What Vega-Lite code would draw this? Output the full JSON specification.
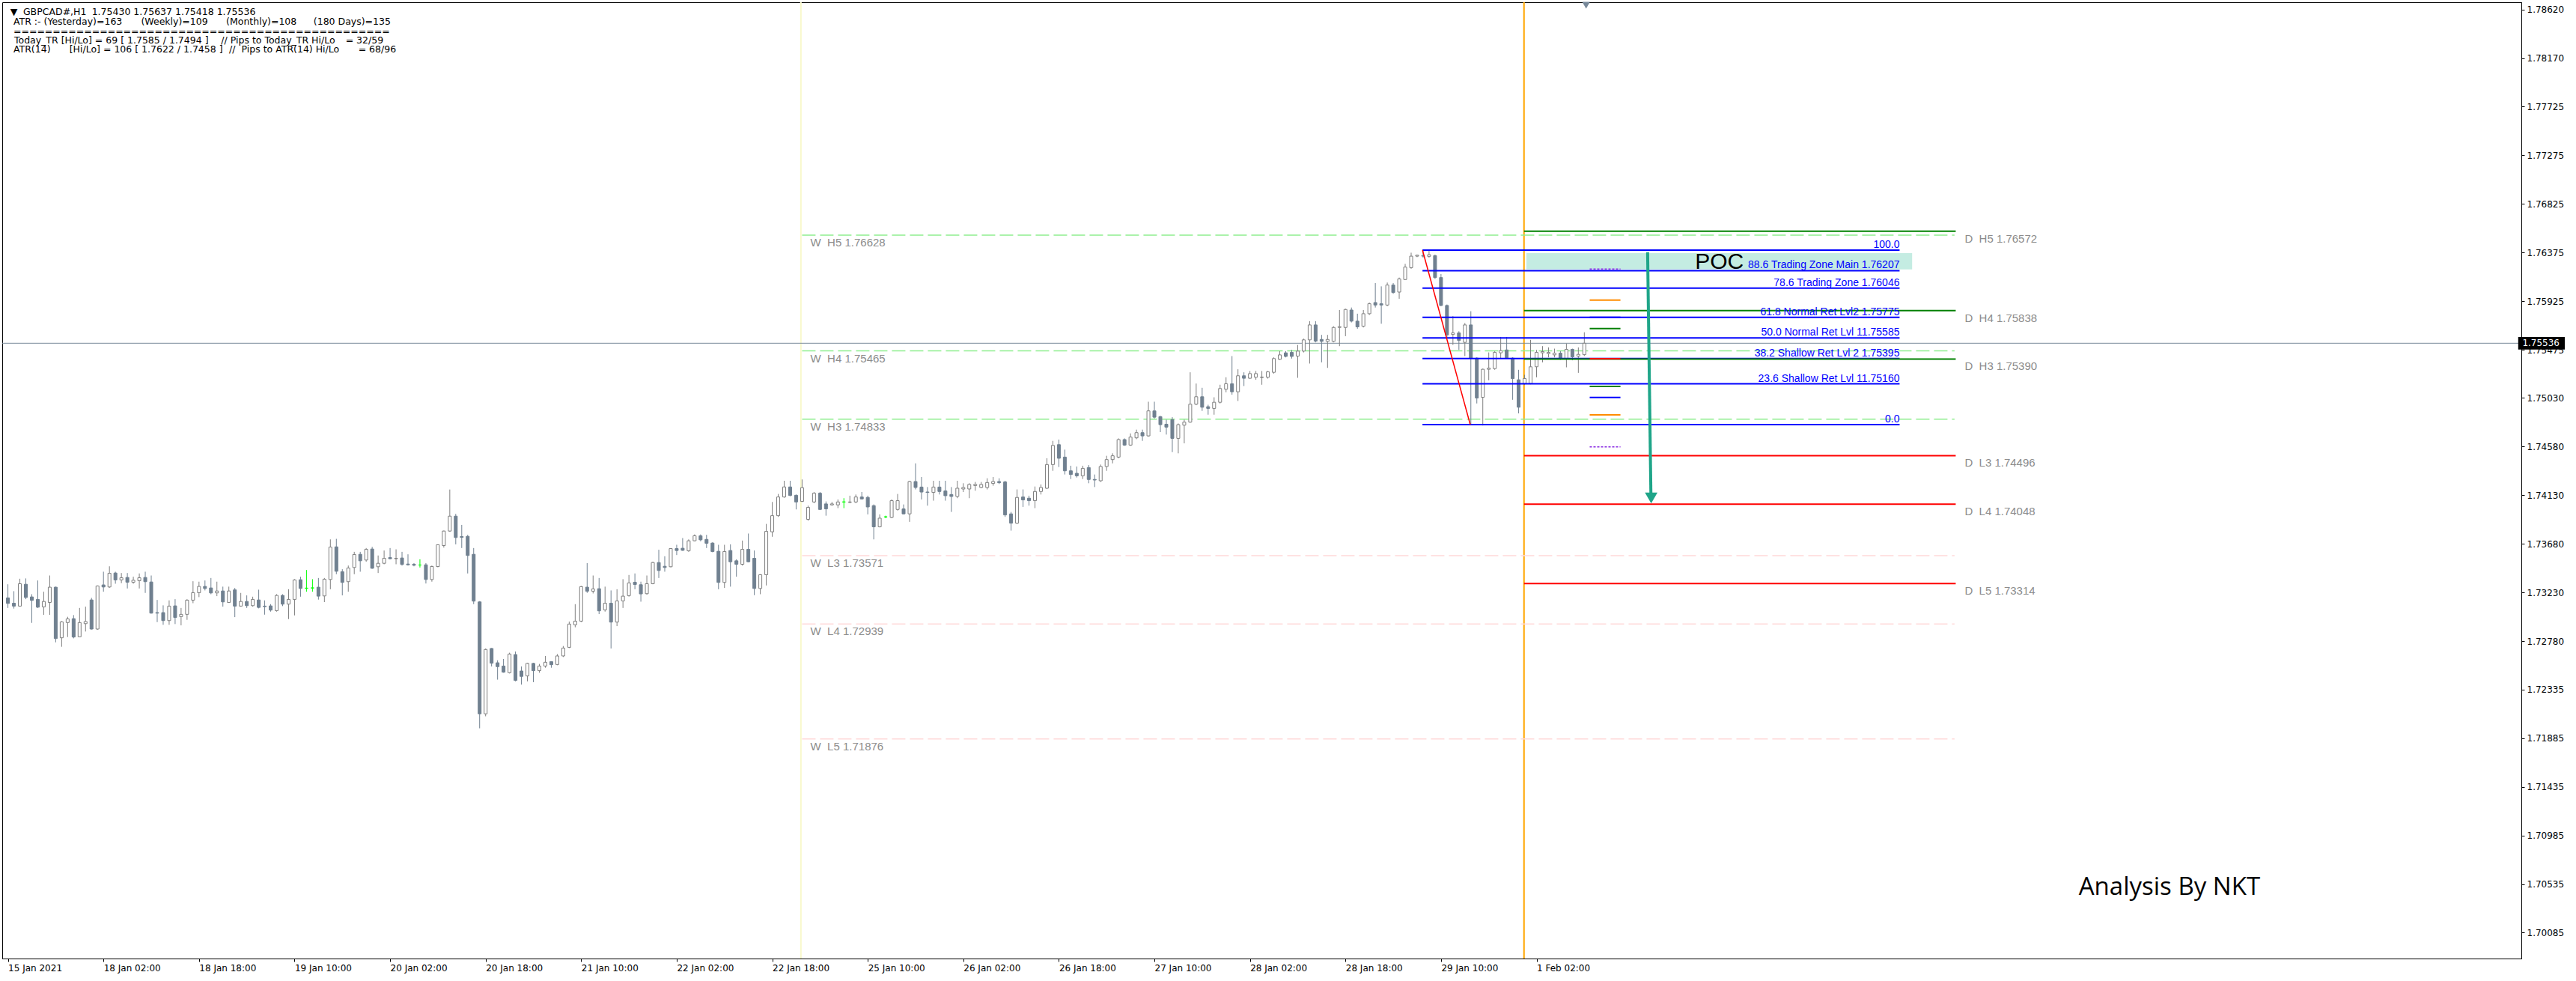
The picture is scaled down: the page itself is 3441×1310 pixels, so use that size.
{
"$schema":"https://vega.github.io/schema/vega-lite/v6.json",
"width":3365,"height":1277,
"autosize":{"type":"none"},
"padding":{"left":3,"top":3,"right":73,"bottom":30},
"background":"white",
"config":{"view":{"stroke":"#000000","strokeWidth":1},
 "axis":{"grid":false,"title":null,"labelFont":"DejaVu Sans","labelFontSize":12,"labelColor":"#000000","domainColor":"#000000","tickColor":"#000000","tickSize":4,"labelFlush":false,"labelOverlap":false},
 "axisX":{"labelAlign":"left","labelBaseline":"top","labelPadding":3},
 "axisY":{"labelAlign":"left","labelBaseline":"middle","labelPadding":3}},
"datasets":{
"candles":[
{"i":0,"o":1.73181,"h":1.73307,"l":1.73088,"c":1.73130},
{"i":1,"o":1.73132,"h":1.73243,"l":1.73082,"c":1.73105},
{"i":2,"o":1.73105,"h":1.73358,"l":1.73100,"c":1.73312},
{"i":3,"o":1.73307,"h":1.73361,"l":1.73169,"c":1.73185},
{"i":4,"o":1.73190,"h":1.73215,"l":1.72950,"c":1.73158},
{"i":5,"o":1.73167,"h":1.73342,"l":1.73088,"c":1.73095},
{"i":6,"o":1.73098,"h":1.73238,"l":1.73024,"c":1.73148},
{"i":7,"o":1.73139,"h":1.73388,"l":1.73024,"c":1.73280},
{"i":8,"o":1.73280,"h":1.73285,"l":1.72770,"c":1.72805},
{"i":9,"o":1.72812,"h":1.72966,"l":1.72729,"c":1.72959},
{"i":10,"o":1.72953,"h":1.73006,"l":1.72819,"c":1.72987},
{"i":11,"o":1.72989,"h":1.73022,"l":1.72807,"c":1.72819},
{"i":12,"o":1.72821,"h":1.73088,"l":1.72817,"c":1.72953},
{"i":13,"o":1.72943,"h":1.73100,"l":1.72870,"c":1.72962},
{"i":14,"o":1.73162,"h":1.73181,"l":1.72888,"c":1.72893},
{"i":15,"o":1.72893,"h":1.73296,"l":1.72886,"c":1.73291},
{"i":16,"o":1.73301,"h":1.73423,"l":1.73238,"c":1.73282},
{"i":17,"o":1.73282,"h":1.73473,"l":1.73273,"c":1.73409},
{"i":18,"o":1.73411,"h":1.73423,"l":1.73312,"c":1.73347},
{"i":19,"o":1.73347,"h":1.73411,"l":1.73317,"c":1.73367},
{"i":20,"o":1.73370,"h":1.73411,"l":1.73268,"c":1.73326},
{"i":21,"o":1.73326,"h":1.73377,"l":1.73312,"c":1.73344},
{"i":22,"o":1.73340,"h":1.73407,"l":1.73268,"c":1.73367},
{"i":23,"o":1.73370,"h":1.73423,"l":1.73227,"c":1.73331},
{"i":24,"o":1.73328,"h":1.73388,"l":1.73036,"c":1.73040},
{"i":25,"o":1.73045,"h":1.73162,"l":1.72957,"c":1.73040},
{"i":26,"o":1.73045,"h":1.73112,"l":1.72932,"c":1.72971},
{"i":27,"o":1.72971,"h":1.73158,"l":1.72932,"c":1.73105},
{"i":28,"o":1.73107,"h":1.73169,"l":1.72939,"c":1.73000},
{"i":29,"o":1.73008,"h":1.73088,"l":1.72927,"c":1.73029},
{"i":30,"o":1.73029,"h":1.73169,"l":1.72978,"c":1.73160},
{"i":31,"o":1.73160,"h":1.73335,"l":1.73132,"c":1.73229},
{"i":32,"o":1.73229,"h":1.73331,"l":1.73188,"c":1.73287},
{"i":33,"o":1.73287,"h":1.73342,"l":1.73250,"c":1.73268},
{"i":34,"o":1.73273,"h":1.73365,"l":1.73215,"c":1.73227},
{"i":35,"o":1.73227,"h":1.73331,"l":1.73197,"c":1.73245},
{"i":36,"o":1.73245,"h":1.73285,"l":1.73100,"c":1.73144},
{"i":37,"o":1.73139,"h":1.73285,"l":1.73135,"c":1.73245},
{"i":38,"o":1.73255,"h":1.73273,"l":1.73003,"c":1.73105},
{"i":39,"o":1.73105,"h":1.73227,"l":1.73100,"c":1.73148},
{"i":40,"o":1.73148,"h":1.73204,"l":1.73088,"c":1.73109},
{"i":41,"o":1.73109,"h":1.73192,"l":1.73100,"c":1.73167},
{"i":42,"o":1.73162,"h":1.73257,"l":1.73084,"c":1.73093},
{"i":43,"o":1.73105,"h":1.73158,"l":1.73026,"c":1.73100},
{"i":44,"o":1.73107,"h":1.73123,"l":1.73054,"c":1.73068},
{"i":45,"o":1.73063,"h":1.73215,"l":1.73054,"c":1.73204},
{"i":46,"o":1.73204,"h":1.73215,"l":1.73105,"c":1.73123},
{"i":47,"o":1.73123,"h":1.73261,"l":1.72985,"c":1.73167},
{"i":48,"o":1.73167,"h":1.73354,"l":1.73019,"c":1.73347},
{"i":49,"o":1.73349,"h":1.73377,"l":1.73192,"c":1.73268},
{"i":50,"o":1.73271,"h":1.73439,"l":1.73238,"c":1.73271},
{"i":51,"o":1.73273,"h":1.73354,"l":1.73238,"c":1.73273},
{"i":52,"o":1.73280,"h":1.73365,"l":1.73165,"c":1.73197},
{"i":53,"o":1.73199,"h":1.73365,"l":1.73142,"c":1.73354},
{"i":54,"o":1.73351,"h":1.73722,"l":1.73261,"c":1.73651},
{"i":55,"o":1.73653,"h":1.73727,"l":1.73400,"c":1.73427},
{"i":56,"o":1.73423,"h":1.73446,"l":1.73204,"c":1.73324},
{"i":57,"o":1.73331,"h":1.73480,"l":1.73238,"c":1.73457},
{"i":58,"o":1.73462,"h":1.73607,"l":1.73400,"c":1.73582},
{"i":59,"o":1.73584,"h":1.73607,"l":1.73423,"c":1.73524},
{"i":60,"o":1.73531,"h":1.73642,"l":1.73515,"c":1.73630},
{"i":61,"o":1.73633,"h":1.73653,"l":1.73450,"c":1.73455},
{"i":62,"o":1.73469,"h":1.73573,"l":1.73411,"c":1.73501},
{"i":63,"o":1.73501,"h":1.73619,"l":1.73492,"c":1.73547},
{"i":64,"o":1.73554,"h":1.73642,"l":1.73538,"c":1.73543},
{"i":65,"o":1.73543,"h":1.73630,"l":1.73492,"c":1.73547},
{"i":66,"o":1.73550,"h":1.73607,"l":1.73480,"c":1.73490},
{"i":67,"o":1.73494,"h":1.73584,"l":1.73480,"c":1.73487},
{"i":68,"o":1.73492,"h":1.73503,"l":1.73473,"c":1.73483},
{"i":69,"o":1.73485,"h":1.73538,"l":1.73462,"c":1.73485},
{"i":70,"o":1.73487,"h":1.73503,"l":1.73314,"c":1.73351},
{"i":71,"o":1.73351,"h":1.73480,"l":1.73331,"c":1.73471},
{"i":72,"o":1.73471,"h":1.73676,"l":1.73464,"c":1.73672},
{"i":73,"o":1.73665,"h":1.73803,"l":1.73646,"c":1.73799},
{"i":74,"o":1.73799,"h":1.74183,"l":1.73792,"c":1.73937},
{"i":75,"o":1.73937,"h":1.73958,"l":1.73676,"c":1.73739},
{"i":76,"o":1.73748,"h":1.73856,"l":1.73642,"c":1.73741},
{"i":77,"o":1.73750,"h":1.73764,"l":1.73407,"c":1.73573},
{"i":78,"o":1.73584,"h":1.73642,"l":1.73123,"c":1.73151},
{"i":79,"o":1.73144,"h":1.73151,"l":1.71975,"c":1.72109},
{"i":80,"o":1.72109,"h":1.72713,"l":1.72086,"c":1.72704},
{"i":81,"o":1.72713,"h":1.72717,"l":1.72547,"c":1.72577},
{"i":82,"o":1.72581,"h":1.72604,"l":1.72425,"c":1.72545},
{"i":83,"o":1.72551,"h":1.72616,"l":1.72489,"c":1.72494},
{"i":84,"o":1.72489,"h":1.72674,"l":1.72482,"c":1.72662},
{"i":85,"o":1.72657,"h":1.72685,"l":1.72409,"c":1.72418},
{"i":86,"o":1.72505,"h":1.72547,"l":1.72379,"c":1.72455},
{"i":87,"o":1.72459,"h":1.72581,"l":1.72409,"c":1.72575},
{"i":88,"o":1.72575,"h":1.72581,"l":1.72402,"c":1.72508},
{"i":89,"o":1.72508,"h":1.72570,"l":1.72489,"c":1.72551},
{"i":90,"o":1.72551,"h":1.72644,"l":1.72535,"c":1.72586},
{"i":91,"o":1.72591,"h":1.72593,"l":1.72535,"c":1.72563},
{"i":92,"o":1.72565,"h":1.72662,"l":1.72558,"c":1.72644},
{"i":93,"o":1.72644,"h":1.72736,"l":1.72634,"c":1.72717},
{"i":94,"o":1.72724,"h":1.72962,"l":1.72717,"c":1.72939},
{"i":95,"o":1.72932,"h":1.73123,"l":1.72909,"c":1.72966},
{"i":96,"o":1.72966,"h":1.73291,"l":1.72957,"c":1.73285},
{"i":97,"o":1.73280,"h":1.73503,"l":1.73227,"c":1.73243},
{"i":98,"o":1.73243,"h":1.73388,"l":1.73222,"c":1.73264},
{"i":99,"o":1.73266,"h":1.73365,"l":1.73031,"c":1.73061},
{"i":100,"o":1.73070,"h":1.73285,"l":1.73054,"c":1.73132},
{"i":101,"o":1.73132,"h":1.73250,"l":1.72713,"c":1.72957},
{"i":102,"o":1.72957,"h":1.73261,"l":1.72920,"c":1.73153},
{"i":103,"o":1.73153,"h":1.73354,"l":1.73088,"c":1.73197},
{"i":104,"o":1.73202,"h":1.73393,"l":1.73192,"c":1.73319},
{"i":105,"o":1.73326,"h":1.73407,"l":1.73261,"c":1.73305},
{"i":106,"o":1.73303,"h":1.73331,"l":1.73146,"c":1.73218},
{"i":107,"o":1.73220,"h":1.73388,"l":1.73211,"c":1.73312},
{"i":108,"o":1.73312,"h":1.73515,"l":1.73307,"c":1.73508},
{"i":109,"o":1.73508,"h":1.73626,"l":1.73365,"c":1.73434},
{"i":110,"o":1.73473,"h":1.73566,"l":1.73423,"c":1.73462},
{"i":111,"o":1.73469,"h":1.73642,"l":1.73464,"c":1.73637},
{"i":112,"o":1.73637,"h":1.73672,"l":1.73577,"c":1.73619},
{"i":113,"o":1.73640,"h":1.73734,"l":1.73616,"c":1.73621},
{"i":114,"o":1.73616,"h":1.73722,"l":1.73607,"c":1.73709},
{"i":115,"o":1.73709,"h":1.73768,"l":1.73704,"c":1.73755},
{"i":116,"o":1.73755,"h":1.73768,"l":1.73704,"c":1.73718},
{"i":117,"o":1.73722,"h":1.73764,"l":1.73642,"c":1.73686},
{"i":118,"o":1.73688,"h":1.73695,"l":1.73603,"c":1.73610},
{"i":119,"o":1.73612,"h":1.73672,"l":1.73261,"c":1.73324},
{"i":120,"o":1.73324,"h":1.73672,"l":1.73273,"c":1.73610},
{"i":121,"o":1.73619,"h":1.73676,"l":1.73285,"c":1.73515},
{"i":122,"o":1.73524,"h":1.73538,"l":1.73377,"c":1.73492},
{"i":123,"o":1.73492,"h":1.73711,"l":1.73480,"c":1.73630},
{"i":124,"o":1.73630,"h":1.73776,"l":1.73510,"c":1.73515},
{"i":125,"o":1.73547,"h":1.73619,"l":1.73206,"c":1.73268},
{"i":126,"o":1.73268,"h":1.73400,"l":1.73215,"c":1.73395},
{"i":127,"o":1.73395,"h":1.73865,"l":1.73296,"c":1.73796},
{"i":128,"o":1.73792,"h":1.74068,"l":1.73746,"c":1.73941},
{"i":129,"o":1.73941,"h":1.74142,"l":1.73930,"c":1.74114},
{"i":130,"o":1.74114,"h":1.74264,"l":1.74107,"c":1.74207},
{"i":131,"o":1.74207,"h":1.74264,"l":1.74121,"c":1.74128},
{"i":132,"o":1.74130,"h":1.74137,"l":1.73999,"c":1.74068},
{"i":133,"o":1.74073,"h":1.74276,"l":1.74068,"c":1.74200},
{"i":134,"o":1.73907,"h":1.74034,"l":1.73895,"c":1.74018},
{"i":135,"o":1.74068,"h":1.74160,"l":1.74057,"c":1.74149},
{"i":136,"o":1.74149,"h":1.74160,"l":1.73995,"c":1.73999},
{"i":137,"o":1.74050,"h":1.74073,"l":1.73941,"c":1.74004},
{"i":138,"o":1.74041,"h":1.74068,"l":1.74034,"c":1.74050},
{"i":139,"o":1.74041,"h":1.74091,"l":1.74011,"c":1.74068},
{"i":140,"o":1.74068,"h":1.74103,"l":1.74011,"c":1.74068},
{"i":141,"o":1.74064,"h":1.74126,"l":1.74057,"c":1.74068},
{"i":142,"o":1.74068,"h":1.74137,"l":1.74057,"c":1.74114},
{"i":143,"o":1.74114,"h":1.74160,"l":1.74091,"c":1.74096},
{"i":144,"o":1.74110,"h":1.74126,"l":1.73953,"c":1.74022},
{"i":145,"o":1.74034,"h":1.74045,"l":1.73722,"c":1.73838},
{"i":146,"o":1.73838,"h":1.73953,"l":1.73833,"c":1.73918},
{"i":147,"o":1.73930,"h":1.73941,"l":1.73918,"c":1.73930},
{"i":148,"o":1.73925,"h":1.74091,"l":1.73918,"c":1.74080},
{"i":149,"o":1.73999,"h":1.74142,"l":1.73988,"c":1.74080},
{"i":150,"o":1.74004,"h":1.74045,"l":1.73953,"c":1.73958},
{"i":151,"o":1.73958,"h":1.74264,"l":1.73884,"c":1.74257},
{"i":152,"o":1.74257,"h":1.74425,"l":1.74184,"c":1.74202},
{"i":153,"o":1.74206,"h":1.74299,"l":1.74091,"c":1.74160},
{"i":154,"o":1.74160,"h":1.74206,"l":1.74034,"c":1.74156},
{"i":155,"o":1.74156,"h":1.74264,"l":1.74080,"c":1.74206},
{"i":156,"o":1.74206,"h":1.74264,"l":1.74137,"c":1.74165},
{"i":157,"o":1.74170,"h":1.74264,"l":1.74080,"c":1.74126},
{"i":158,"o":1.74137,"h":1.74206,"l":1.73976,"c":1.74119},
{"i":159,"o":1.74119,"h":1.74264,"l":1.74103,"c":1.74195},
{"i":160,"o":1.74188,"h":1.74241,"l":1.74160,"c":1.74202},
{"i":161,"o":1.74188,"h":1.74241,"l":1.74103,"c":1.74230},
{"i":162,"o":1.74220,"h":1.74253,"l":1.74172,"c":1.74230},
{"i":163,"o":1.74202,"h":1.74253,"l":1.74195,"c":1.74230},
{"i":164,"o":1.74202,"h":1.74287,"l":1.74184,"c":1.74248},
{"i":165,"o":1.74239,"h":1.74299,"l":1.74218,"c":1.74257},
{"i":166,"o":1.74257,"h":1.74287,"l":1.74234,"c":1.74246},
{"i":167,"o":1.74253,"h":1.74264,"l":1.73930,"c":1.73948},
{"i":168,"o":1.73958,"h":1.73976,"l":1.73803,"c":1.73872},
{"i":169,"o":1.73872,"h":1.74184,"l":1.73865,"c":1.74110},
{"i":170,"o":1.74114,"h":1.74184,"l":1.74022,"c":1.74087},
{"i":171,"o":1.74103,"h":1.74126,"l":1.74034,"c":1.74080},
{"i":172,"o":1.74080,"h":1.74211,"l":1.74011,"c":1.74165},
{"i":173,"o":1.74165,"h":1.74230,"l":1.74137,"c":1.74202},
{"i":174,"o":1.74195,"h":1.74472,"l":1.74188,"c":1.74414},
{"i":175,"o":1.74414,"h":1.74633,"l":1.74356,"c":1.74591},
{"i":176,"o":1.74598,"h":1.74645,"l":1.74391,"c":1.74472},
{"i":177,"o":1.74483,"h":1.74552,"l":1.74322,"c":1.74356},
{"i":178,"o":1.74356,"h":1.74403,"l":1.74280,"c":1.74322},
{"i":179,"o":1.74333,"h":1.74396,"l":1.74294,"c":1.74310},
{"i":180,"o":1.74310,"h":1.74403,"l":1.74280,"c":1.74379},
{"i":181,"o":1.74386,"h":1.74409,"l":1.74241,"c":1.74276},
{"i":182,"o":1.74276,"h":1.74322,"l":1.74206,"c":1.74271},
{"i":183,"o":1.74264,"h":1.74414,"l":1.74253,"c":1.74396},
{"i":184,"o":1.74396,"h":1.74495,"l":1.74356,"c":1.74460},
{"i":185,"o":1.74460,"h":1.74518,"l":1.74425,"c":1.74495},
{"i":186,"o":1.74483,"h":1.74656,"l":1.74472,"c":1.74645},
{"i":187,"o":1.74645,"h":1.74656,"l":1.74587,"c":1.74594},
{"i":188,"o":1.74594,"h":1.74702,"l":1.74587,"c":1.74668},
{"i":189,"o":1.74661,"h":1.74737,"l":1.74649,"c":1.74709},
{"i":190,"o":1.74709,"h":1.74737,"l":1.74633,"c":1.74679},
{"i":191,"o":1.74679,"h":1.74995,"l":1.74672,"c":1.74910},
{"i":192,"o":1.74910,"h":1.74995,"l":1.74840,"c":1.74852},
{"i":193,"o":1.74857,"h":1.74864,"l":1.74714,"c":1.74783},
{"i":194,"o":1.74787,"h":1.74829,"l":1.74691,"c":1.74760},
{"i":195,"o":1.74829,"h":1.74852,"l":1.74529,"c":1.74656},
{"i":196,"o":1.74656,"h":1.74794,"l":1.74518,"c":1.74783},
{"i":197,"o":1.74778,"h":1.74829,"l":1.74610,"c":1.74806},
{"i":198,"o":1.74806,"h":1.75267,"l":1.74801,"c":1.74972},
{"i":199,"o":1.74972,"h":1.75163,"l":1.74963,"c":1.75041},
{"i":200,"o":1.75041,"h":1.75124,"l":1.74910,"c":1.74944},
{"i":201,"o":1.74949,"h":1.74967,"l":1.74875,"c":1.74933},
{"i":202,"o":1.74933,"h":1.75036,"l":1.74875,"c":1.74990},
{"i":203,"o":1.74990,"h":1.75152,"l":1.74979,"c":1.75117},
{"i":204,"o":1.75110,"h":1.75221,"l":1.75082,"c":1.75161},
{"i":205,"o":1.75161,"h":1.75417,"l":1.75060,"c":1.75087},
{"i":206,"o":1.75087,"h":1.75295,"l":1.75002,"c":1.75235},
{"i":207,"o":1.75235,"h":1.75267,"l":1.75140,"c":1.75212},
{"i":208,"o":1.75212,"h":1.75279,"l":1.75209,"c":1.75255},
{"i":209,"o":1.75221,"h":1.75279,"l":1.75198,"c":1.75255},
{"i":210,"o":1.75219,"h":1.75279,"l":1.75152,"c":1.75223},
{"i":211,"o":1.75221,"h":1.75279,"l":1.75209,"c":1.75271},
{"i":212,"o":1.75267,"h":1.75405,"l":1.75255,"c":1.75394},
{"i":213,"o":1.75387,"h":1.75463,"l":1.75382,"c":1.75428},
{"i":214,"o":1.75447,"h":1.75463,"l":1.75405,"c":1.75414},
{"i":215,"o":1.75451,"h":1.75474,"l":1.75394,"c":1.75414},
{"i":216,"o":1.75417,"h":1.75520,"l":1.75216,"c":1.75463},
{"i":217,"o":1.75463,"h":1.75578,"l":1.75451,"c":1.75567},
{"i":218,"o":1.75567,"h":1.75740,"l":1.75348,"c":1.75705},
{"i":219,"o":1.75705,"h":1.75740,"l":1.75544,"c":1.75555},
{"i":220,"o":1.75571,"h":1.75613,"l":1.75359,"c":1.75553},
{"i":221,"o":1.75553,"h":1.75613,"l":1.75308,"c":1.75571},
{"i":222,"o":1.75553,"h":1.75693,"l":1.75544,"c":1.75682},
{"i":223,"o":1.75682,"h":1.75843,"l":1.75509,"c":1.75689},
{"i":224,"o":1.75682,"h":1.75855,"l":1.75601,"c":1.75848},
{"i":225,"o":1.75843,"h":1.75866,"l":1.75728,"c":1.75740},
{"i":226,"o":1.75740,"h":1.75809,"l":1.75670,"c":1.75687},
{"i":227,"o":1.75693,"h":1.75843,"l":1.75682,"c":1.75809},
{"i":228,"o":1.75809,"h":1.75912,"l":1.75797,"c":1.75901},
{"i":229,"o":1.75912,"h":1.76092,"l":1.75866,"c":1.75889},
{"i":230,"o":1.75901,"h":1.76062,"l":1.75716,"c":1.75889},
{"i":231,"o":1.75889,"h":1.76097,"l":1.75878,"c":1.76074},
{"i":232,"o":1.76074,"h":1.76092,"l":1.75993,"c":1.76005},
{"i":233,"o":1.76009,"h":1.76143,"l":1.75947,"c":1.76131},
{"i":234,"o":1.76125,"h":1.76270,"l":1.76120,"c":1.76240},
{"i":235,"o":1.76235,"h":1.76373,"l":1.76224,"c":1.76341},
{"i":236,"o":1.76341,"h":1.76355,"l":1.76332,"c":1.76350},
{"i":237,"o":1.76346,"h":1.76397,"l":1.76327,"c":1.76341},
{"i":238,"o":1.76339,"h":1.76390,"l":1.76327,"c":1.76355},
{"i":239,"o":1.76346,"h":1.76355,"l":1.76131,"c":1.76143},
{"i":240,"o":1.76143,"h":1.76175,"l":1.75878,"c":1.75885},
{"i":241,"o":1.75885,"h":1.75894,"l":1.75578,"c":1.75613},
{"i":242,"o":1.75617,"h":1.75786,"l":1.75520,"c":1.75631},
{"i":243,"o":1.75631,"h":1.75647,"l":1.75474,"c":1.75562},
{"i":244,"o":1.75544,"h":1.75723,"l":1.75417,"c":1.75705},
{"i":245,"o":1.75705,"h":1.75832,"l":1.74783,"c":1.75398},
{"i":246,"o":1.75398,"h":1.75405,"l":1.74979,"c":1.75029},
{"i":247,"o":1.75036,"h":1.75301,"l":1.74775,"c":1.75295},
{"i":248,"o":1.75295,"h":1.75451,"l":1.75193,"c":1.75306},
{"i":249,"o":1.75301,"h":1.75463,"l":1.75290,"c":1.75451},
{"i":250,"o":1.75447,"h":1.75594,"l":1.75394,"c":1.75468},
{"i":251,"o":1.75474,"h":1.75594,"l":1.75394,"c":1.75401},
{"i":252,"o":1.75398,"h":1.75405,"l":1.75013,"c":1.75209},
{"i":253,"o":1.75198,"h":1.75290,"l":1.74887,"c":1.74944},
{"i":254,"o":1.75163,"h":1.75244,"l":1.75152,"c":1.75209},
{"i":255,"o":1.75163,"h":1.75567,"l":1.75156,"c":1.75318},
{"i":256,"o":1.75318,"h":1.75474,"l":1.75221,"c":1.75451},
{"i":257,"o":1.75447,"h":1.75509,"l":1.75359,"c":1.75458},
{"i":258,"o":1.75440,"h":1.75497,"l":1.75405,"c":1.75451},
{"i":259,"o":1.75428,"h":1.75486,"l":1.75405,"c":1.75444},
{"i":260,"o":1.75444,"h":1.75463,"l":1.75382,"c":1.75394},
{"i":261,"o":1.75394,"h":1.75532,"l":1.75313,"c":1.75479},
{"i":262,"o":1.75479,"h":1.75486,"l":1.75378,"c":1.75410},
{"i":263,"o":1.75417,"h":1.75497,"l":1.75262,"c":1.75433},
{"i":264,"o":1.75430,"h":1.75637,"l":1.75418,"c":1.75536}
],
"vlines":[{"i":132.8,"kind":"week"},{"i":253.9,"kind":"day"}],
"wlev":[
{"i":133,"i2":326,"p":1.76535,"side":"H"},
{"i":133,"i2":326,"p":1.75465,"side":"H"},
{"i":133,"i2":326,"p":1.74833,"side":"H"},
{"i":133,"i2":326,"p":1.73571,"side":"L"},
{"i":133,"i2":326,"p":1.72939,"side":"L"},
{"i":133,"i2":326,"p":1.71876,"side":"L"}
],
"dlev":[
{"i":253.9,"i2":326.2,"p":1.76572,"side":"H"},
{"i":253.9,"i2":326.2,"p":1.75838,"side":"H"},
{"i":253.9,"i2":326.2,"p":1.75390,"side":"H"},
{"i":253.9,"i2":326.2,"p":1.74496,"side":"L"},
{"i":253.9,"i2":326.2,"p":1.74048,"side":"L"},
{"i":253.9,"i2":326.2,"p":1.73314,"side":"L"}
],
"fib":[
{"i":236.9,"i2":316.8,"p":1.76397,"t":"100.0"},
{"i":236.9,"i2":316.8,"p":1.76207,"t":"88.6 Trading Zone Main 1.76207"},
{"i":236.9,"i2":316.8,"p":1.76046,"t":"78.6 Trading Zone 1.76046"},
{"i":236.9,"i2":316.8,"p":1.75775,"t":"61.8 Normal Ret Lvl2 1.75775"},
{"i":236.9,"i2":316.8,"p":1.75585,"t":"50.0 Normal Ret Lvl 11.75585"},
{"i":236.9,"i2":316.8,"p":1.75395,"t":"38.2 Shallow Ret Lvl 2 1.75395"},
{"i":236.9,"i2":316.8,"p":1.75160,"t":"23.6 Shallow Ret Lvl 11.75160"},
{"i":236.9,"i2":316.8,"p":1.74783,"t":"0.0"}
],
"diag":[{"i":236.9,"p":1.76397,"i2":244.9,"p2":1.74783}],
"zone":[{"i":254.3,"i2":318.9,"p":1.76218,"p2":1.76369}],
"marks":[
{"i":264.9,"i2":270.05,"p":1.76222,"kind":"atr"},
{"i":264.9,"i2":270.05,"p":1.74578,"kind":"atr"},
{"i":264.9,"i2":270.05,"p":1.75935,"kind":"tr"},
{"i":264.9,"i2":270.05,"p":1.74873,"kind":"tr"},
{"i":264.9,"i2":270.05,"p":1.75776,"kind":"b"},
{"i":264.9,"i2":270.05,"p":1.75035,"kind":"b"},
{"i":264.9,"i2":270.05,"p":1.75672,"kind":"g"},
{"i":264.9,"i2":270.05,"p":1.75136,"kind":"g"},
{"i":264.9,"i2":270.05,"p":1.75393,"kind":"r"}
],
"arrow":[{"i":274.6,"p":1.76377,"i2":275.15,"p2":1.74150}],
"arrowhead":[{"i":275.2,"p":1.74105}],
"shift":[{"i":264.3,"p":1.78661}],
"cur":[{"p":1.75536}],
"labels":[
{"i":134.4,"p":1.76466,"t":"W\u00a0\u00a0H5 1.76628"},
{"i":134.4,"p":1.75396,"t":"W\u00a0\u00a0H4 1.75465"},
{"i":134.4,"p":1.74764,"t":"W\u00a0\u00a0H3 1.74833"},
{"i":134.4,"p":1.73502,"t":"W\u00a0\u00a0L3 1.73571"},
{"i":134.4,"p":1.72870,"t":"W\u00a0\u00a0L4 1.72939"},
{"i":134.4,"p":1.71807,"t":"W\u00a0\u00a0L5 1.71876"},
{"i":327.7,"p":1.76503,"t":"D\u00a0\u00a0H5 1.76572"},
{"i":327.7,"p":1.75769,"t":"D\u00a0\u00a0H4 1.75838"},
{"i":327.7,"p":1.75321,"t":"D\u00a0\u00a0H3 1.75390"},
{"i":327.7,"p":1.74427,"t":"D\u00a0\u00a0L3 1.74496"},
{"i":327.7,"p":1.73979,"t":"D\u00a0\u00a0L4 1.74048"},
{"i":327.7,"p":1.73245,"t":"D\u00a0\u00a0L5 1.73314"}
],
"header":[
{"i":0.4,"p":1.78600,"t":"\u25bc"},
{"i":2.55,"p":1.78600,"t":"GBPCAD#,H1"},
{"i":14.05,"p":1.78600,"t":"1.75430 1.75637 1.75418 1.75536"},
{"i":0.925,"p":1.78509,"t":"ATR :- (Yesterday)=163"},
{"i":22.3,"p":1.78509,"t":"(Weekly)=109"},
{"i":36.55,"p":1.78509,"t":"(Monthly)=108"},
{"i":51.18,"p":1.78509,"t":"(180 Days)=135"},
{"i":0.925,"p":1.78416,"t":"================================================"},
{"i":1.05,"p":1.78339,"t":"Today_TR [Hi/Lo] = 69 [ 1.7585 / 1.7494 ]"},
{"i":35.7,"p":1.78339,"t":"// Pips to Today_TR Hi/Lo"},
{"i":56.55,"p":1.78339,"t":"= 32/59"},
{"i":0.925,"p":1.78256,"t":"ATR(14)"},
{"i":10.3,"p":1.78256,"t":"[Hi/Lo] = 106 [ 1.7622 / 1.7458 ]"},
{"i":37.05,"p":1.78256,"t":"//\u00a0\u00a0Pips to ATR(14) Hi/Lo"},
{"i":58.68,"p":1.78256,"t":"= 68/96"}
],
"poc":[{"i":282.55,"p":1.76286,"t":"POC"}],
"sig":[{"i":346.8,"p":1.70503,"t":"Analysis By NKT"}],
"pbox":[{"i":420.4,"i2":428.2,"p":1.75477,"p2":1.75594}],
"ptext":[{"i":421.1,"p":1.75536,"t":"1.75536"}]
},
"layer":[
{"data":{"name":"vlines"},"mark":{"type":"rule","strokeWidth":2},
 "encoding":{"x":{"field":"i","type":"quantitative","title":null,"scale":{"domain":[-0.325,420.3],"nice":false,"zero":false}},
 "color":{"condition":{"test":"datum.kind==='week'","value":"#f8f8cc"},"value":"#ffa500"}}},
{"data":{"name":"wlev"},"mark":{"type":"rule","strokeWidth":1.5,"strokeDash":[18,6]},
 "encoding":{"x":{"field":"i","type":"quantitative","title":null,"scale":{"domain":[-0.325,420.3],"nice":false,"zero":false}},"x2":{"field":"i2"},
 "y":{"field":"p","type":"quantitative","title":null,"scale":{"domain":[1.69846,1.78689],"nice":false,"zero":false}},
 "color":{"condition":{"test":"datum.side==='H'","value":"#90ee90"},"value":"#ffd9d9"}}},
{"data":{"name":"cur"},"mark":{"type":"rule","strokeWidth":1,"color":"#778899"},
 "encoding":{"y":{"field":"p","type":"quantitative","title":null,"scale":{"domain":[1.69846,1.78689],"nice":false,"zero":false}}}},
{"data":{"name":"zone"},"mark":{"type":"rect","color":"#c4ece2"},
 "encoding":{"x":{"field":"i","type":"quantitative","title":null,"scale":{"domain":[-0.325,420.3],"nice":false,"zero":false}},"x2":{"field":"i2"},
 "y":{"field":"p","type":"quantitative","title":null,"scale":{"domain":[1.69846,1.78689],"nice":false,"zero":false}},"y2":{"field":"p2"}}},
{"data":{"name":"candles"},"mark":{"type":"rule","strokeWidth":1},
 "encoding":{
 "x":{"field":"i","type":"quantitative","title":null,"scale":{"domain":[-0.325,420.3],"nice":false,"zero":false},
  "axis":{"orient":"bottom","values":[0,16,32,48,64,80,96,112,128,144,160,176,192,208,224,240,256],
  "labelExpr":"['15 Jan 2021','18 Jan 02:00','18 Jan 18:00','19 Jan 10:00','20 Jan 02:00','20 Jan 18:00','21 Jan 10:00','22 Jan 02:00','22 Jan 18:00','25 Jan 10:00','26 Jan 02:00','26 Jan 18:00','27 Jan 10:00','28 Jan 02:00','28 Jan 18:00','29 Jan 10:00','1 Feb 02:00'][round(datum.value/16)]",
  "tickSize":4,"labelPadding":3,"labelAlign":"left","labelBaseline":"top","grid":false,"title":null}},
 "y":{"field":"l","type":"quantitative","title":null,"scale":{"domain":[1.69846,1.78689],"nice":false,"zero":false},
  "axis":{"orient":"right","values":[1.7862,1.7817,1.77725,1.77275,1.76825,1.76375,1.75925,1.75475,1.7503,1.7458,1.7413,1.7368,1.7323,1.7278,1.72335,1.71885,1.71435,1.70985,1.70535,1.70085],
  "format":".5f","tickSize":4,"labelPadding":3,"grid":false,"title":null}},
 "y2":{"field":"h"},
 "color":{"condition":[{"test":"datum.o == datum.c","value":"#00ff00"},{"test":"datum.c < datum.o","value":"#708090"}],"value":"#7f7f7f"}}},
{"data":{"name":"candles"},"mark":{"type":"bar","width":4,"strokeWidth":1},
 "encoding":{
 "x":{"field":"i","type":"quantitative","title":null,"scale":{"domain":[-0.325,420.3],"nice":false,"zero":false}},
 "y":{"field":"o","type":"quantitative","title":null,"scale":{"domain":[1.69846,1.78689],"nice":false,"zero":false}},
 "y2":{"field":"c"},
 "fill":{"condition":{"test":"datum.c < datum.o","value":"#708090"},"value":"#ffffff"},
 "stroke":{"condition":[{"test":"datum.o == datum.c","value":"#00ff00"},{"test":"datum.c < datum.o","value":"#708090"}],"value":"#7f7f7f"}}},
{"data":{"name":"fib"},"mark":{"type":"rule","strokeWidth":2,"color":"#0000ff"},
 "encoding":{"x":{"field":"i","type":"quantitative","title":null,"scale":{"domain":[-0.325,420.3],"nice":false,"zero":false}},"x2":{"field":"i2"},
 "y":{"field":"p","type":"quantitative","title":null,"scale":{"domain":[1.69846,1.78689],"nice":false,"zero":false}}}},
{"data":{"name":"dlev"},"mark":{"type":"rule","strokeWidth":2},
 "encoding":{"x":{"field":"i","type":"quantitative","title":null,"scale":{"domain":[-0.325,420.3],"nice":false,"zero":false}},"x2":{"field":"i2"},
 "y":{"field":"p","type":"quantitative","title":null,"scale":{"domain":[1.69846,1.78689],"nice":false,"zero":false}},
 "color":{"condition":{"test":"datum.side==='H'","value":"#008000"},"value":"#ff0000"}}},
{"data":{"name":"diag"},"mark":{"type":"rule","strokeWidth":1.5,"color":"#ff0000"},
 "encoding":{"x":{"field":"i","type":"quantitative","title":null,"scale":{"domain":[-0.325,420.3],"nice":false,"zero":false}},"x2":{"field":"i2"},
 "y":{"field":"p","type":"quantitative","title":null,"scale":{"domain":[1.69846,1.78689],"nice":false,"zero":false}},"y2":{"field":"p2"}}},
{"data":{"name":"marks"},"transform":[{"filter":"datum.kind !== 'atr'"}],"mark":{"type":"rule","strokeWidth":2},
 "encoding":{"x":{"field":"i","type":"quantitative","title":null,"scale":{"domain":[-0.325,420.3],"nice":false,"zero":false}},"x2":{"field":"i2"},
 "y":{"field":"p","type":"quantitative","title":null,"scale":{"domain":[1.69846,1.78689],"nice":false,"zero":false}},
 "color":{"condition":[{"test":"datum.kind==='tr'","value":"#ff8c00"},{"test":"datum.kind==='b'","value":"#0000ff"},{"test":"datum.kind==='g'","value":"#008000"}],"value":"#ff0000"}}},
{"data":{"name":"marks"},"transform":[{"filter":"datum.kind === 'atr'"}],"mark":{"type":"rule","strokeWidth":1.5,"strokeDash":[3,2],"color":"#8a2be2"},
 "encoding":{"x":{"field":"i","type":"quantitative","title":null,"scale":{"domain":[-0.325,420.3],"nice":false,"zero":false}},"x2":{"field":"i2"},
 "y":{"field":"p","type":"quantitative","title":null,"scale":{"domain":[1.69846,1.78689],"nice":false,"zero":false}}}},
{"data":{"name":"arrow"},"mark":{"type":"rule","strokeWidth":4,"color":"#1fa589"},
 "encoding":{"x":{"field":"i","type":"quantitative","title":null,"scale":{"domain":[-0.325,420.3],"nice":false,"zero":false}},"x2":{"field":"i2"},
 "y":{"field":"p","type":"quantitative","title":null,"scale":{"domain":[1.69846,1.78689],"nice":false,"zero":false}},"y2":{"field":"p2"}}},
{"data":{"name":"arrowhead"},"mark":{"type":"point","shape":"triangle-down","filled":true,"size":280,"color":"#1fa589","opacity":1},
 "encoding":{"x":{"field":"i","type":"quantitative","title":null,"scale":{"domain":[-0.325,420.3],"nice":false,"zero":false}},
 "y":{"field":"p","type":"quantitative","title":null,"scale":{"domain":[1.69846,1.78689],"nice":false,"zero":false}}}},
{"data":{"name":"shift"},"mark":{"type":"point","shape":"triangle-down","filled":true,"size":110,"color":"#778899","opacity":1},
 "encoding":{"x":{"field":"i","type":"quantitative","title":null,"scale":{"domain":[-0.325,420.3],"nice":false,"zero":false}},
 "y":{"field":"p","type":"quantitative","title":null,"scale":{"domain":[1.69846,1.78689],"nice":false,"zero":false}}}},
{"data":{"name":"labels"},"mark":{"type":"text","align":"left","baseline":"middle","font":"Liberation Sans","fontSize":15,"color":"#8c8c8c"},
 "encoding":{"x":{"field":"i","type":"quantitative","title":null,"scale":{"domain":[-0.325,420.3],"nice":false,"zero":false}},
 "y":{"field":"p","type":"quantitative","title":null,"scale":{"domain":[1.69846,1.78689],"nice":false,"zero":false}},
 "text":{"field":"t"}}},
{"data":{"name":"fib"},"mark":{"type":"text","align":"right","baseline":"alphabetic","dy":-3,"font":"Liberation Sans","fontSize":14,"color":"#0000ff"},
 "encoding":{"x":{"field":"i2","type":"quantitative","title":null,"scale":{"domain":[-0.325,420.3],"nice":false,"zero":false}},
 "y":{"field":"p","type":"quantitative","title":null,"scale":{"domain":[1.69846,1.78689],"nice":false,"zero":false}},
 "text":{"field":"t"}}},
{"data":{"name":"header"},"mark":{"type":"text","align":"left","baseline":"middle","font":"DejaVu Sans","fontSize":12.5,"color":"#000000"},
 "encoding":{"x":{"field":"i","type":"quantitative","title":null,"scale":{"domain":[-0.325,420.3],"nice":false,"zero":false}},
 "y":{"field":"p","type":"quantitative","title":null,"scale":{"domain":[1.69846,1.78689],"nice":false,"zero":false}},
 "text":{"field":"t"}}},
{"data":{"name":"poc"},"mark":{"type":"text","align":"left","baseline":"middle","font":"Liberation Sans","fontSize":30,"color":"#000000"},
 "encoding":{"x":{"field":"i","type":"quantitative","title":null,"scale":{"domain":[-0.325,420.3],"nice":false,"zero":false}},
 "y":{"field":"p","type":"quantitative","title":null,"scale":{"domain":[1.69846,1.78689],"nice":false,"zero":false}},
 "text":{"field":"t"}}},
{"data":{"name":"sig"},"mark":{"type":"text","align":"left","baseline":"middle","font":"Open Sans","fontSize":33,"color":"#000000"},
 "encoding":{"x":{"field":"i","type":"quantitative","title":null,"scale":{"domain":[-0.325,420.3],"nice":false,"zero":false}},
 "y":{"field":"p","type":"quantitative","title":null,"scale":{"domain":[1.69846,1.78689],"nice":false,"zero":false}},
 "text":{"field":"t"}}},
{"data":{"name":"pbox"},"mark":{"type":"rect","color":"#000000"},
 "encoding":{"x":{"field":"i","type":"quantitative","title":null,"scale":{"domain":[-0.325,420.3],"nice":false,"zero":false}},"x2":{"field":"i2"},
 "y":{"field":"p","type":"quantitative","title":null,"scale":{"domain":[1.69846,1.78689],"nice":false,"zero":false}},"y2":{"field":"p2"}}},
{"data":{"name":"ptext"},"mark":{"type":"text","align":"left","baseline":"middle","font":"DejaVu Sans","fontSize":12,"color":"#ffffff"},
 "encoding":{"x":{"field":"i","type":"quantitative","title":null,"scale":{"domain":[-0.325,420.3],"nice":false,"zero":false}},
 "y":{"field":"p","type":"quantitative","title":null,"scale":{"domain":[1.69846,1.78689],"nice":false,"zero":false}},
 "text":{"field":"t"}}}
]
}
